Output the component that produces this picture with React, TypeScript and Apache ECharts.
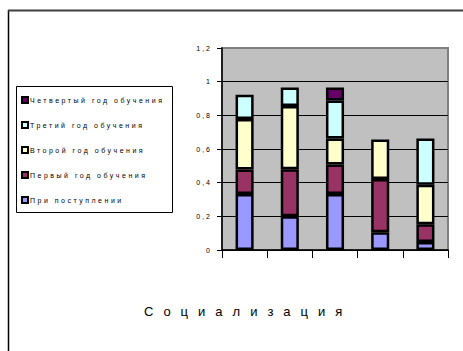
import React, { useEffect, useRef } from "react";
import * as echarts from "echarts";

const categories = ["1", "2", "3", "4", "5"];
const seriesNames = [
  "При поступлении",
  "Первый год обучения",
  "Второй год обучения",
  "Третий год обучения",
  "Четвертый год обучения",
];
const admission = [0.333, 0.2, 0.333, 0.105, 0.048];
const year1 = [0.145, 0.28, 0.175, 0.317, 0.105];
const year2 = [0.3, 0.375, 0.155, 0.235, 0.235];
const year3 = [0.145, 0.11, 0.225, null, 0.275];
const year4 = [null, null, 0.078, null, null];
const seriesValues = [admission, year1, year2, year3, year4];
const yMin = 0;
const yMax = 1.2;
const yStep = 0.2;
const titleText = "Социализация";

const colors = ["#9999ff", "#993366", "#ffffcc", "#ccffff", "#660066"];
const FONT = "'Liberation Sans', Arial, sans-serif";

export default function App() {
  const ref = useRef<HTMLDivElement>(null);
  useEffect(() => {
    if (!ref.current) return;
    const chart = echarts.init(ref.current, undefined, { renderer: "svg" });
    const applySpacing = () => {
      if (!ref.current) return;
      ref.current.querySelectorAll("text").forEach((t) => {
        const s = t.textContent || "";
        let ls: number | null = null;
        if (s === titleText) ls = 10;
        else if (seriesNames.includes(s)) ls = 2.5;
        else if (/^[\d,]+$/.test(s)) ls = 2;
        if (ls != null) t.setAttribute("letter-spacing", ls + "px");
      });
    };
    chart.setOption({
      animation: false,
      backgroundColor: "#ffffff",
      title: {
        text: titleText,
        left: 144,
        top: 305,
        padding: 0,
        textStyle: { fontSize: 13, fontWeight: "normal", fontFamily: FONT, color: "#000" },
      },
      legend: {
        orient: "vertical",
        left: 21,
        top: 96,
        padding: 0,
        itemWidth: 6,
        itemHeight: 6,
        itemGap: 17,
        icon: "rect",
        data: seriesNames.slice().reverse(),
        itemStyle: { borderColor: "#000", borderWidth: 2 },
        textStyle: { fontSize: 7, fontFamily: FONT, color: "#000", lineHeight: 7, padding: [0, 0, 0, -3] },
      },
      grid: {
        left: 222,
        top: 48,
        width: 226,
        height: 202,
        show: true,
        backgroundColor: "#c0c0c0",
        borderColor: "#808080",
        borderWidth: 2,
      },
      xAxis: {
        type: "category",
        data: categories,
        axisLine: { show: true, lineStyle: { color: "#000", width: 1.5 } },
        axisTick: { show: true, alignWithLabel: false, length: 8, lineStyle: { color: "#000", width: 1 } },
        axisLabel: { show: false },
        splitLine: { show: false },
      },
      yAxis: {
        type: "value",
        min: yMin,
        max: yMax,
        interval: yStep,
        axisLine: { show: true, lineStyle: { color: "#000", width: 1.5 } },
        axisTick: { show: true, inside: false, length: 5, lineStyle: { color: "#000", width: 1 } },
        axisLabel: {
          fontSize: 7,
          fontFamily: FONT,
          color: "#000",
          margin: 10,
          formatter: (v: number) => String(Math.round(v * 10) / 10).replace(".", ","),
        },
        splitLine: {
          show: true,
          lineStyle: {
            color: ["#000", "#000", "#000", "#000", "#000", "#000", "#808080"],
            width: 1,
          },
        },
      },
      series: seriesNames.map((name, i) => ({
        name,
        type: "bar",
        stack: "total",
        barWidth: "40%",
        data: seriesValues[i],
        itemStyle: { color: colors[i], borderColor: "#000000", borderWidth: 2.5, borderType: "solid", opacity: 1 },
      })),
      graphic: [
        {
          type: "line",
          shape: { x1: 8.5, y1: 10, x2: 8.5, y2: 351 },
          style: { stroke: "#000", lineWidth: 1.5 },
        },
        {
          type: "line",
          shape: { x1: 8, y1: 10.5, x2: 463, y2: 10.5 },
          style: { stroke: "#404040", lineWidth: 2 },
        },
        {
          type: "rect",
          shape: { x: 16.5, y: 86.5, width: 156, height: 126 },
          style: { fill: "transparent", stroke: "#000", lineWidth: 1 },
        },
      ],
    });
    applySpacing();
    chart.on("finished", applySpacing);
    const raf = requestAnimationFrame(applySpacing);
    return () => {
      cancelAnimationFrame(raf);
      chart.dispose();
    };
  }, []);
  return <div ref={ref} style={{ width: 463, height: 351, position: "absolute", left: 0, top: 0 }} />;
}
